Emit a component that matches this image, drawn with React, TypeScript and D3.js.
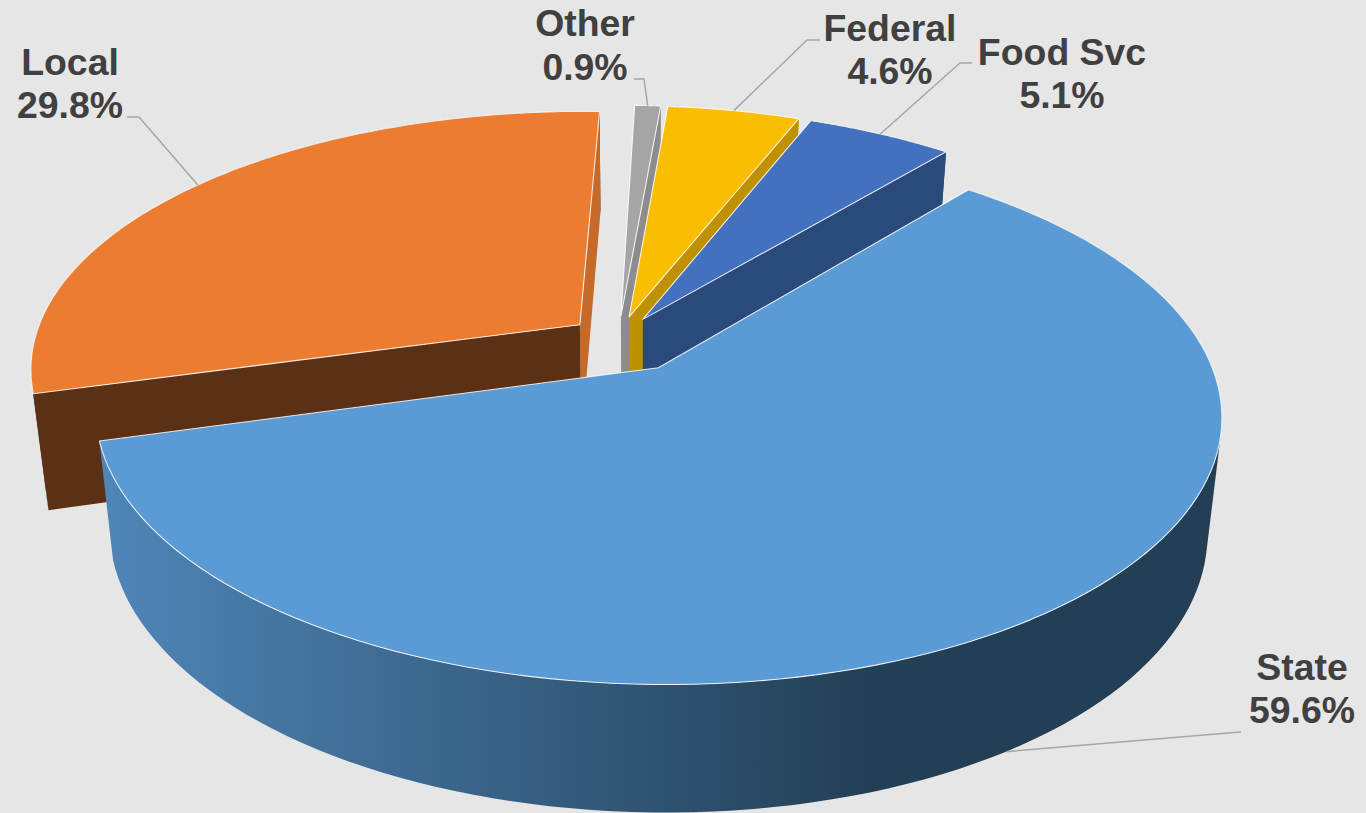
import React from "react";
import * as d3 from "d3";

// Revenue share by source, clockwise from the large front slice.
const sources = ["State", "Local", "Other", "Federal", "Food Svc"];
const shares = [59.6, 29.8, 0.9, 4.6, 5.1];

const topColors = ["#5b9bd5", "#ec7c30", "#a5a5a5", "#fbbd00", "#4371c0"];
const rimColors = ["url(#stateRim)", "#5c3014", "#8c8c8c", "#bf9000", "#2a4a7c"];
const endFaceColors = ["#233f56", "#c66a2a", "#8c8c8c", "#bf9000", "#2a4a7c"];
const explode = [0.134, 0.09, 0.09, 0.09, 0.09];

// Label centre x, first baseline, second baseline, and the elbow of each leader line.
const labelX = [1302, 70, 585, 890, 1062];
const labelY = [680, 75, 36, 40.5, 65];
const labelLineY = [723, 118, 80, 83.5, 108];
const elbows = [
  [[1241, 732], [1228, 733]],
  [[127, 117], [139, 117]],
  [[634, 79], [644, 79]],
  [[820, 40], [807, 40]],
  [[972, 63], [960, 63]],
];

const WIDTH = 1366;
const HEIGHT = 813;

// Perspective view of the pie plane: unit radius, y running toward the viewer.
const OX = 657;
const OY = 368;
const FX = 555;
const FY = 263;
const P = 0.17;
const SKEW_X = 0.0096;
const SKEW_Y = 0.0045;
const CENTER: [number, number] = [-0.071, -0.113];
const VANISH_X = 640;

type Pt = [number, number];

const top = ([X, Y]: Pt): Pt => {
  const w = 1 - P * Y;
  const px = (FX * X) / w;
  const py = (FY * Y) / w;
  return [OX + px + SKEW_X * py, OY + py + SKEW_Y * px];
};

// The same plane point on the underside of the disc.
const bottom = ([X, Y]: Pt): Pt => {
  const [x, y] = top([X, Y]);
  return [x - (x - VANISH_X) * 0.025, y + 115 + 13 * Y];
};

const onCircle = (apex: Pt, a: number): Pt => [apex[0] + Math.sin(a), apex[1] - Math.cos(a)];
const path = d3.line<Pt>();

const pieLayout = d3
  .pie<number>()
  .sort(null)
  .startAngle((39.5 * Math.PI) / 180)
  .endAngle((39.5 * Math.PI) / 180 + 2 * Math.PI);

// The outer wall is built from quads, all wound the same way, so the fill
// also covers the silhouette where the wall folds out of sight.
const wallPath = (rim: Pt[]) =>
  d3
    .range(rim.length - 1)
    .map((k) => {
      const quad: Pt[] = [top(rim[k]), top(rim[k + 1]), bottom(rim[k + 1]), bottom(rim[k])];
      if ((d3.polygonArea(quad) as number) < 0) quad.reverse();
      return path(quad) + "Z";
    })
    .join("");

const slices = pieLayout(shares).map((arc, i) => {
  const mid = (arc.startAngle + arc.endAngle) / 2;
  const apex: Pt = [
    CENTER[0] + explode[i] * Math.sin(mid),
    CENTER[1] - explode[i] * Math.cos(mid),
  ];
  const steps = d3.range(0, 121).map((k) => arc.startAngle + ((arc.endAngle - arc.startAngle) * k) / 120);
  const rim = steps.map((a) => onCircle(apex, a));
  const start = rim[0];
  const end = rim[rim.length - 1];
  return {
    i,
    mid: onCircle(apex, mid),
    topPath: path([top(apex), ...rim.map(top)]) + "Z",
    rimPath: wallPath(rim),
    startFace: path([top(apex), top(start), bottom(start), bottom(apex)]) + "Z",
    endFace: path([top(apex), top(end), bottom(end), bottom(apex)]) + "Z",
  };
});

export default function App() {
  return (
    <svg
      width={WIDTH}
      height={HEIGHT}
      viewBox={`0 0 ${WIDTH} ${HEIGHT}`}
      style={{ position: "absolute", left: 0, top: 0, display: "block", background: "#e6e6e6" }}
    >
      <defs>
        <linearGradient id="stateRim" gradientUnits="userSpaceOnUse" x1={100} y1={0} x2={870} y2={0}>
          <stop offset="0" stopColor="#4f86b8" />
          <stop offset="1" stopColor="#233f56" />
        </linearGradient>
      </defs>

      {/* Back slices first so the nearer ones overlap them; State goes last. */}
      {[1, 2, 3, 4, 0].map((i) => {
        const s = slices[i];
        return (
          <g key={sources[i]}>
            <path d={s.rimPath} fill={rimColors[i]} />
            {i !== 0 && <path d={s.endFace} fill={endFaceColors[i]} />}
            {i === 1 && <path d={s.startFace} fill={rimColors[i]} />}
            <path d={s.topPath} fill={topColors[i]} stroke="#ffffff" strokeWidth={1.1} strokeLinejoin="round" strokeOpacity={0.85} />
          </g>
        );
      })}

      {/* Leader lines run from the slice's mid-angle on its rim to the label. */}
      {slices.map((s) => {
        const anchor = s.i === 0 ? bottom(s.mid) : top(s.mid);
        const pts: Pt[] = [elbows[s.i][0] as Pt, elbows[s.i][1] as Pt, anchor];
        return <path key={s.i} d={path(pts) as string} fill="none" stroke="#a6a6a6" strokeWidth={1.5} />;
      })}

      {sources.map((name, i) => (
        <text
          key={name}
          textAnchor="middle"
          fontFamily="'Liberation Sans', Arial, sans-serif"
          fontWeight={700}
          fontSize={37.4}
          fill="#404040"
        >
          <tspan x={labelX[i]} y={labelY[i]}>{name}</tspan>
          <tspan x={labelX[i]} y={labelLineY[i]}>{`${shares[i].toFixed(1)}%`}</tspan>
        </text>
      ))}
    </svg>
  );
}
